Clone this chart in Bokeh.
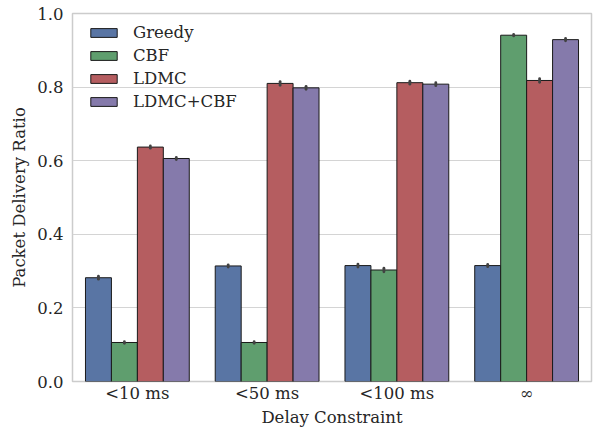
from bokeh.plotting import figure
from bokeh.models import ColumnDataSource, FactorRange, Range1d, FixedTicker, PrintfTickFormatter
from bokeh.transform import dodge
from bokeh.embed import file_html
from bokeh.resources import INLINE

categories = ["<10 ms", "<50 ms", "<100 ms", "\u221e"]
series_names = ["Greedy", "CBF", "LDMC", "LDMC+CBF"]
greedy = [0.282, 0.314, 0.315, 0.315]
cbf = [0.106, 0.106, 0.303, 0.941]
ldmc = [0.637, 0.810, 0.812, 0.818]
ldmc_cbf = [0.606, 0.798, 0.808, 0.929]
greedy_err = [0.004, 0.003, 0.004, 0.003]
cbf_err = [0.002, 0.002, 0.005, 0.002]
ldmc_err = [0.003, 0.005, 0.004, 0.005]
ldmc_cbf_err = [0.003, 0.004, 0.004, 0.003]
y_ticks = [0.0, 0.2, 0.4, 0.6, 0.8, 1.0]

colors = ["#5975a4", "#5f9e6e", "#b55d60", "#857aab"]
offsets = [-0.3, -0.1, 0.1, 0.3]
FONT = "DejaVu Serif"
TXT = "#262626"
FS = "16.5px"

p = figure(width=600, height=429, x_range=FactorRange(factors=categories, range_padding=0),
           y_range=Range1d(0, 1.0), output_backend="svg", toolbar_location=None,
           min_border_left=72, min_border_right=9, min_border_top=13, min_border_bottom=40)

sources = []
for name, vals, errs, col, off in zip(series_names, [greedy, cbf, ldmc, ldmc_cbf],
                                      [greedy_err, cbf_err, ldmc_err, ldmc_cbf_err], colors, offsets):
    src = ColumnDataSource(dict(cat=categories, top=vals,
                                lo=[v - e for v, e in zip(vals, errs)],
                                hi=[v + e for v, e in zip(vals, errs)]))
    sources.append((src, off))
    p.vbar(x=dodge("cat", off, range=p.x_range), top="top", width=0.2, source=src,
           fill_color=col, line_color="#1a1a1a", line_width=1, legend_label=name)

for src, off in sources:
    p.segment(x0=dodge("cat", off, range=p.x_range), y0="lo",
              x1=dodge("cat", off, range=p.x_range), y1="hi", source=src,
              line_color="#424242", line_width=2.8, line_cap="round")

p.outline_line_color = "#cccccc"
p.outline_line_width = 1.5
p.xgrid.grid_line_color = None
p.ygrid.grid_line_color = "#d4d4d4"
p.ygrid.grid_line_width = 1.2
p.yaxis.ticker = FixedTicker(ticks=y_ticks)
p.yaxis.formatter = PrintfTickFormatter(format="%.1f")

for ax in (p.xaxis[0], p.yaxis[0]):
    ax.axis_line_color = None
    ax.major_tick_line_color = None
    ax.minor_tick_line_color = None
    ax.major_tick_out = 0
    ax.major_tick_in = 0
    ax.minor_tick_out = 0
    ax.minor_tick_in = 0
    ax.major_label_text_font = FONT
    ax.major_label_text_font_size = FS
    ax.major_label_text_color = TXT
    ax.axis_label_text_font = FONT
    ax.axis_label_text_font_size = FS
    ax.axis_label_text_font_style = "normal"
    ax.axis_label_text_color = TXT

p.xaxis.axis_label = "Delay Constraint"
p.yaxis.axis_label = "Packet Delivery Ratio"
p.xaxis.major_label_standoff = 2
p.xaxis.axis_label_standoff = 2
p.yaxis.major_label_standoff = 9
p.yaxis.axis_label_standoff = 5

lg = p.legend[0]
lg.location = (15, 270)
lg.padding = 0
lg.margin = 0
lg.spacing = 3
lg.glyph_width = 33
lg.glyph_height = 11
lg.label_height = 20
lg.label_standoff = 13
lg.label_text_font = FONT
lg.label_text_font_size = FS
lg.label_text_color = TXT
lg.background_fill_alpha = 0
lg.border_line_color = None

open("out.html", "w").write(file_html(p, INLINE))
